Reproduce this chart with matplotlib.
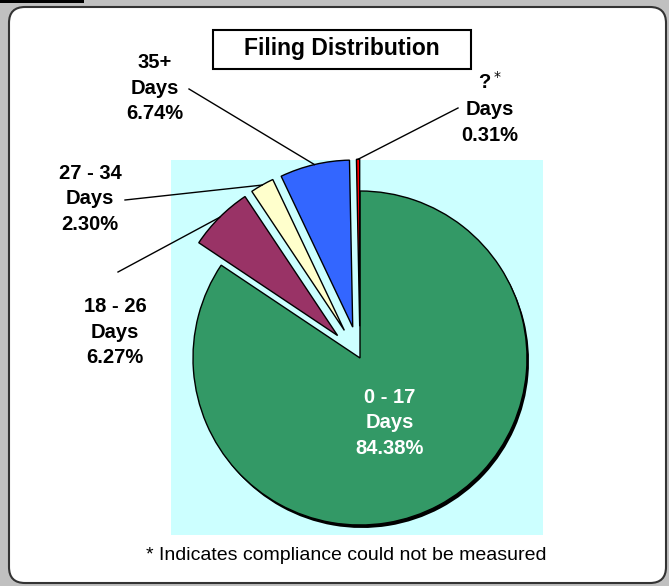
import numpy as np
import matplotlib
matplotlib.use("Agg")
import matplotlib.pyplot as plt
from matplotlib.patches import Rectangle, FancyBboxPatch, Wedge

plt.rcParams['font.family'] = ['Liberation Sans', 'DejaVu Sans']

# data
labels = ["0 - 17\nDays", "18 - 26\nDays", "27 - 34\nDays", "35+\nDays", "?$^*$\nDays"]
values = [84.38, 6.27, 2.30, 6.74, 0.31]
colors = ["#339966", "#993366", "#FFFFCC", "#3366FF", "#FF0000"]
explode_frac = [0, 0.19, 0.19, 0.19, 0.19]

W, H = 669, 586
fig = plt.figure(figsize=(W / 100, H / 100), dpi=100)
fig.patch.set_facecolor("#C0C0C0")
ax = fig.add_axes([0, 0, 1, 1])

# frame
frame = FancyBboxPatch((9, 3), 657, 576, boxstyle="round,pad=0,rounding_size=16",
                       facecolor="white", edgecolor="#333333", linewidth=1.5, zorder=0)
ax.add_patch(frame)
ax.add_patch(Rectangle((0, 583), 84, 3, facecolor="black", edgecolor="none", zorder=0))

# cyan plot area
ax.add_patch(Rectangle((171, 51), 372, 375, facecolor="#CCFFFF", edgecolor="none", zorder=1))

center = (360, 228)
radius = 167
# pie explode is in data units, so scale by radius
explode = [e * radius for e in explode_frac]
wedges, _ = ax.pie(values, colors=colors, startangle=90, counterclock=False,
                   explode=explode, center=center, radius=radius, frame=True,
                   wedgeprops=dict(edgecolor="black", linewidth=1))
for w in wedges:
    w.set_zorder(3)

# shadow under the big slice
g = wedges[0]
sh = Wedge((g.center[0] + 2, g.center[1] - 3), g.r, g.theta1, g.theta2,
           facecolor="black", edgecolor="none", zorder=2)
ax.add_patch(sh)

# labels
pct = ["{:.2f}%".format(v) for v in values]
ax.text(390, 163, labels[0] + "\n" + pct[0], color="white", fontsize=14.5,
        fontweight="bold", ha="center", va="center", linespacing=1.45, zorder=5)

# (text pos, line start) for the small slices
lab_pos = {1: ((115, 254), (118, 314)),
           2: ((90, 387), (125, 386)),
           3: ((155, 498), (189, 497)),
           4: ((490, 478), (458, 478))}
for i, (tp, ls) in lab_pos.items():
    ax.text(tp[0], tp[1], labels[i] + "\n" + pct[i], fontsize=14.5, fontweight="bold",
            ha="center", va="center", linespacing=1.45, zorder=5)
    w = wedges[i]
    mid = np.deg2rad((w.theta1 + w.theta2) / 2)
    px = w.center[0] + w.r * np.cos(mid)
    py = w.center[1] + w.r * np.sin(mid)
    ax.plot([ls[0], px], [ls[1], py], color="black", linewidth=1, zorder=4)

# title box
ax.add_patch(Rectangle((213, 517), 258, 39, facecolor="white", edgecolor="black",
                       linewidth=1.5, zorder=5))
ax.text(342, 537, "Filing Distribution", fontsize=16.5, fontweight="bold",
        ha="center", va="center", zorder=6)

ax.text(346, 30, "* Indicates compliance could not be measured", fontsize=14,
        ha="center", va="center", zorder=5)

ax.set_xlim(0, W)
ax.set_ylim(0, H)
ax.set_aspect("auto")
ax.axis("off")

fig.savefig("out.png", dpi=100, facecolor=fig.get_facecolor())
